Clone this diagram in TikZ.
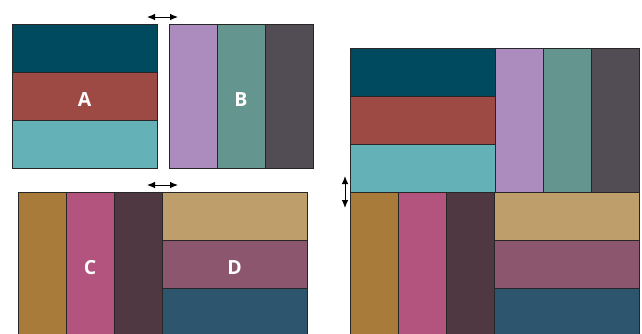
\documentclass[tikz,border=0pt]{standalone}
\usepackage{fontspec}
\setmainfont{Open Sans}
\usetikzlibrary{arrows.meta,positioning}
\definecolor{cTealDark}{HTML}{004A5F}
\definecolor{cBrick}{HTML}{9E4A44}
\definecolor{cCyan}{HTML}{64B2B8}
\definecolor{cLilac}{HTML}{AC8BBE}
\definecolor{cSage}{HTML}{64958F}
\definecolor{cSlate}{HTML}{524D54}
\definecolor{cOchre}{HTML}{A97B3A}
\definecolor{cPink}{HTML}{B3547E}
\definecolor{cPlum}{HTML}{4F3842}
\definecolor{cTan}{HTML}{BE9F6C}
\definecolor{cMauve}{HTML}{8C566E}
\definecolor{cNavy}{HTML}{2D566E}

\begin{document}
\begin{tikzpicture}[
   x=1pt, y=-1pt,
   node distance=0pt,
   tile/.style={draw=black!85, line width=0.8pt, inner sep=0pt, outer sep=0pt,
      text=white, font=\fontsize{19.5}{19.5}\selectfont\bfseries,
      text height=21.5pt, text depth=0pt},
   hbar/.style={tile, minimum width=145pt, minimum height=48pt},
   vbar/.style={tile, minimum width=48pt, minimum height=144pt},
   gap/.style={{Latex[length=8pt,width=6.5pt]}-{Latex[length=8pt,width=6.5pt]}, line width=0.9pt}
]
\useasboundingbox (0,0) rectangle (642,333);
\clip (0,0) rectangle (642,333);

% block A
\node[hbar, fill=cTealDark, anchor=north west] (A1) at (12,24) {};
\node[hbar, fill=cBrick, below=of A1] (A2) {A};
\node[hbar, fill=cCyan, below=of A2] (A3) {};

% block B
\node[vbar, fill=cLilac, anchor=north west] (B1) at (169,24) {};
\node[vbar, fill=cSage, right=of B1] (B2) {B};
\node[vbar, fill=cSlate, right=of B2] (B3) {};

% block C
\node[vbar, fill=cOchre, anchor=north west] (C1) at (18,192) {};
\node[vbar, fill=cPink, right=of C1] (C2) {C};
\node[vbar, fill=cPlum, right=of C2] (C3) {};

% block D
\node[hbar, fill=cTan, anchor=north west] (D1) at (C3.north east) {};
\node[hbar, fill=cMauve, below=of D1] (D2) {D};
\node[hbar, fill=cNavy, below=of D2] (D3) {};

% combined square
\node[hbar, fill=cTealDark, anchor=north west] (SA1) at (350.5,48) {};
\node[hbar, fill=cBrick, below=of SA1] (SA2) {};
\node[hbar, fill=cCyan, below=of SA2] (SA3) {};
\node[vbar, fill=cLilac, anchor=north west] (SB1) at (SA1.north east) {};
\node[vbar, fill=cSage, right=of SB1] (SB2) {};
\node[vbar, fill=cSlate, right=of SB2] (SB3) {};
\node[vbar, fill=cOchre, anchor=north west] (SC1) at (SA3.south west) {};
\node[vbar, fill=cPink, right=of SC1] (SC2) {};
\node[vbar, fill=cPlum, right=of SC2] (SC3) {};
\node[hbar, fill=cTan, anchor=north west] (SD1) at (SC3.north east) {};
\node[hbar, fill=cMauve, below=of SD1] (SD2) {};
\node[hbar, fill=cNavy, below=of SD2] (SD3) {};

% joins
\coordinate (topL) at (147,17);
\coordinate (topR) at (178,17);
\coordinate (midL) at (147,185);
\coordinate (midR) at (178,185);
\coordinate (seamT) at (345,176);
\coordinate (seamB) at (345,208);
\draw[gap] (topL) -- (topR);
\draw[gap] (midL) -- (midR);
\draw[gap] (seamT) -- (seamB);
\end{tikzpicture}
\end{document}
